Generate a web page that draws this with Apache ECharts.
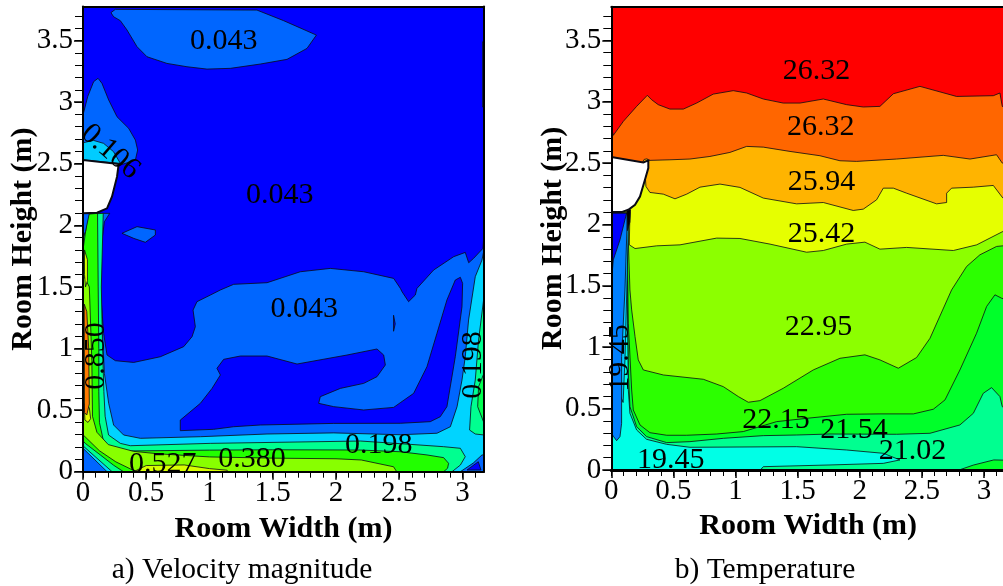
<!DOCTYPE html>
<html><head><meta charset="utf-8">
<style>html,body{margin:0;padding:0;background:#fff}#c{width:1003px;height:586px}</style>
<script src="https://cdn.jsdelivr.net/npm/echarts@6/dist/echarts.min.js"></script>
</head><body><div id="c"></div>
<script>
const FONT='"Liberation Serif"';
const xMajorTicks=[0,0.5,1,1.5,2,2.5,3];
const xMinorTicks=[0,.1,.2,.3,.4,.5,.6,.7,.8,.9,1,1.1,1.2,1.3,1.4,1.5,1.6,1.7,1.8,1.9,2,2.1,2.2,2.3,2.4,2.5,2.6,2.7,2.8,2.9,3,3.1];
const yMajorTicks=[0,0.5,1,1.5,2,2.5,3,3.5];
const yMinorTicks=[0,.1,.2,.3,.4,.5,.6,.7,.8,.9,1,1.1,1.2,1.3,1.4,1.5,1.6,1.7,1.8,1.9,2,2.1,2.2,2.3,2.4,2.5,2.6,2.7,2.8,2.9,3,3.1,3.2,3.3,3.4,3.5,3.6,3.7];

/* ---- a) velocity magnitude: contour bands in metres ---- */
const vBase=[[0,0],[3.17,0],[3.17,3.78],[0,3.78]];
const vTopBlob=[[.221,3.726],[.256,3.753],[1.375,3.747],[1.586,3.661],[1.845,3.544],[1.771,3.436],[1.613,3.347],[1.402,3.309],[1.165,3.274],[.98,3.268],[.822,3.287],[.664,3.314],[.506,3.368],[.427,3.45],[.348,3.585],[.295,3.661],[.242,3.693]];
const vWindowBlob=[[0,2.895],[.037,3.044],[.084,3.166],[.119,3.193],[.15,3.152],[.203,3.017],[.269,2.881],[.361,2.787],[.414,2.692],[.432,2.611],[.414,2.53],[.295,2.489],[0,2.53]];
const vWindowCyan=[[0,2.67],[.084,2.689],[.163,2.665],[.242,2.597],[.295,2.503],[0,2.53]];
const vIsland=[[.308,1.935],[.427,1.989],[.572,1.962],[.572,1.921],[.493,1.862],[.401,1.894]];
const vWallStrip=[[3.159,3.49],[3.17,3.49],[3.17,2.96],[3.159,2.96]];
const vBand1=[[.211,2.097],[.169,2.029],[.15,1.88],[.137,1.475],[.15,1.312],[.163,1.123],[.19,.947],[.256,.901],[.401,.887],[.611,.933],[.796,1.015],[.862,1.096],[.888,1.177],[.87,1.312],[.901,1.38],[1.007,1.434],[1.086,1.475],[1.191,1.521],[1.455,1.534],[1.718,1.623],[1.955,1.65],[2.219,1.623],[2.456,1.569],[2.509,1.488],[2.522,1.461],[2.574,1.38],[2.627,1.434],[2.64,1.488],[2.772,1.637],[2.93,1.745],[3.022,1.78],[3.049,1.696],[3.088,1.732],[3.162,1.813],[3.17,1.935],[3.17,0],[0,0],[0,2.097]];
const vInner=[[.769,.419],[.928,.555],[1.02,.676],[1.086,.785],[1.059,.839],[1.112,.912],[1.244,.939],[1.455,.939],[1.692,.874],[2.087,.947],[2.324,.996],[2.377,.947],[2.39,.866],[2.324,.771],[2.219,.717],[2.034,.676],[1.876,.609],[1.863,.555],[1.982,.528],[2.219,.501],[2.456,.522],[2.508,.56],[2.614,.636],[2.719,.852],[2.798,1.123],[2.877,1.394],[2.943,1.556],[2.983,1.578],[3.001,1.529],[2.996,1.339],[2.943,.933],[2.877,.528],[2.824,.446],[2.745,.406],[2.508,.393],[1.982,.392],[1.402,.379],[1.191,.365],[1.033,.344],[.769,.333]];
const vSliver=[[2.455,1.27],[2.468,1.2],[2.455,1.14]];
const vBand2=[[.137,2.097],[.132,1.475],[.15,1.204],[.169,.798],[.203,.555],[.242,.379],[.321,.298],[.453,.271],[.928,.284],[1.455,.306],[1.982,.315],[2.508,.3],[2.798,.312],[2.904,.365],[2.957,.528],[2.996,.744],[3.022,.933],[3.048,1.231],[3.101,1.583],[3.154,1.718],[3.17,1.8],[3.17,0],[.19,0],[0,.19],[0,1.9],[.05,2.097]];
const vBand3=[[.16,2.097],[.145,1.5],[.155,1],[.165,.65],[.175,.45],[.202,.298],[.295,.23],[.374,.211],[1.006,.23],[2.192,.249],[2.587,.222],[2.851,.203],[2.983,.19],[3.022,.122],[2.983,.054],[2.917,0],[.23,0],[0,.21],[0,1.85],[.03,2.09]];
const vBand3Wall=[[3.17,1.42],[3.127,1.069],[3.101,.744],[3.067,.528],[3.056,.338],[3.101,.306],[3.17,.298]];
const vBand4Wall=[[3.17,.8],[3.127,.69],[3.12,.528],[3.17,.395]];
const vBand4=[[.115,2.097],[.12,1.5],[.125,1],[.125,.65],[.13,.4],[.163,.243],[.242,.176],[.32,.168],[1,.175],[1.5,.178],[2.192,.176],[2.508,.162],[2.719,.136],[2.851,.114],[2.89,.068],[2.882,.028],[2.851,0],[.32,0],[.24,.054],[.137,.136],[.018,.23],[0,.25],[0,1.8],[.04,2.09]];
const vBand5=[[0,1.6],[.05,1.5],[.07,.9],[.075,.45],[.11,.32],[.2,.22],[.4,.165],[.6,.145],[1,.12],[1.5,.11],[2,.105],[2.2,.095],[2.455,.04],[2.48,0],[.42,0],[.26,.08],[.13,.17],[0,.3]];
const vBand6=[[.4,0],[.5,.05],[.8,.055],[1,.025],[1.14,.012],[1.14,0]];
const vWallYellowTop=[[.012,1.8],[.035,1.72],[.035,1.55],[.02,1.5],[.012,1.6]];
const vWallYellowLow=[[.01,.55],[.05,.52],[.06,.43],[.04,.4],[.015,.42]];
const vWallOrange=[[.01,1.36],[.03,1.3],[.045,1],[.05,.55],[.03,.46],[.012,.48]];
const vCornerMid=[[2.983,0],[3.085,.07],[3.154,.136],[3.17,.136],[3.17,0]];
const vCornerDark=[[3.036,.014],[3.125,.081],[3.146,.014]];
const vCornerLeft=[[0,2.097],[.05,2.097],[.02,1.95],[0,1.9]];
const vWindow=[[0,2.53],[.282,2.497],[.269,2.395],[.229,2.232],[.19,2.138],[.111,2.102],[0,2.097]];

const vLabels=['0.043','0.043','0.043','0.198','0.380','0.527','0.106','0.198','0.850'];
const vLabelX=[1.112,1.555,1.75,2.337,1.336,.63,.216,3.085,.105];
const vLabelY=[3.497,2.247,1.322,.213,.102,.065,2.597,.866,.94];
const vLabelAngle=[0,0,0,0,0,0,-41,90,90];

/* ---- b) temperature ---- */
const tBase=[[0,0],[3.17,0],[3.17,3.78],[0,3.78]];
const tOrange=[[0,2.799],[.016,2.726],[.097,2.84],[.204,2.962],[.29,3.052],[.325,3.016],[.378,2.976],[.472,2.94],[.58,2.94],[.687,2.989],[.821,3.062],[.982,3.09],[1.09,3.071],[1.224,3.022],[1.385,2.989],[1.519,2.989],[1.707,3.022],[1.895,2.976],[2.029,2.957],[2.163,2.962],[2.271,3.065],[2.485,3.125],[2.78,3.043],[3.076,3.049],[3.129,3.071],[3.148,2.962],[3.17,2.95],[3.17,0],[0,0]];
const tAmber=[[.303,2.522],[.472,2.527],[.633,2.533],[.794,2.554],[.955,2.587],[1.09,2.636],[1.224,2.63],[1.439,2.595],[1.68,2.56],[1.841,2.519],[1.975,2.514],[2.297,2.533],[2.673,2.563],[2.888,2.533],[3.102,2.568],[3.148,2.5],[3.17,2.5],[3.17,0],[0,0],[0,2.5],[.25,2.5]];
const tYellow=[[.279,2.31],[.311,2.261],[.419,2.247],[.513,2.209],[.607,2.247],[.714,2.304],[.875,2.329],[1.036,2.302],[1.224,2.215],[1.492,2.168],[1.707,2.179],[1.948,2.114],[2.029,2.125],[2.136,2.201],[2.19,2.296],[2.271,2.296],[2.378,2.255],[2.619,2.168],[2.7,2.179],[2.7,2.255],[2.74,2.296],[2.915,2.304],[3.076,2.318],[3.153,2.215],[3.17,2.2],[3.17,0],[0,0],[0,2.4],[.27,2.45]];
const tLime=[[.145,1.834],[.191,1.804],[.365,1.826],[.553,1.834],[.848,1.889],[1.036,1.886],[1.278,1.84],[1.573,1.774],[1.707,1.788],[1.895,1.84],[2.042,1.856],[2.163,1.799],[2.378,1.813],[2.754,1.788],[2.942,1.834],[3.153,1.943],[3.17,1.95],[3.17,0],[0,0],[0,2.1],[.15,2.1]];
const tGreen1=[[.13,2.09],[.15,1.467],[.164,1.304],[.191,1.087],[.217,.897],[.258,.815],[.419,.774],[.741,.739],[.902,.679],[1.023,.598],[1.103,.552],[1.197,.565],[1.385,.666],[1.626,.815],[1.841,.91],[2.042,.938],[2.163,.897],[2.311,.829],[2.458,.916],[2.566,1.073],[2.74,1.467],[2.861,1.658],[2.968,1.753],[3.102,1.821],[3.153,1.826],[3.17,1.83],[3.17,0],[0,0],[0,2.09]];
const tGreen2=[[.125,2.09],[.137,1.196],[.164,.652],[.177,.489],[.231,.367],[.311,.304],[.446,.283],[.607,.283],[.848,.293],[1.063,.313],[1.331,.394],[1.573,.421],[1.895,.454],[2.163,.457],[2.432,.457],[2.593,.495],[2.687,.571],[2.807,.815],[2.941,1.114],[3.022,1.332],[3.089,1.427],[3.143,1.399],[3.17,1.39],[3.17,0],[0,0],[0,2.09]];
const tMint=[[.115,2.09],[.137,.788],[.15,.516],[.204,.353],[.284,.272],[.446,.223],[.633,.231],[.902,.258],[1.224,.28],[1.492,.285],[1.761,.293],[2.297,.291],[2.566,.299],[2.807,.367],[2.915,.462],[2.995,.625],[3.062,.671],[3.129,.598],[3.148,.516],[3.17,.5],[3.17,.08],[3.08,.082],[2.915,.04],[2.8,0],[0,0],[0,2.09]];
const tCyan=[[.125,1.8],[.137,.652],[.15,.462],[.204,.326],[.284,.25],[.446,.209],[.633,.185],[1.492,.19],[1.895,.163],[2.19,.136],[2.324,.082],[2.19,.054],[1.761,.041],[1.224,.027],[1.2,0],[0,0],[0,2.09],[.12,2.09]];
const tSky=[[0,2.09],[.14,2.09],[.125,1.467],[.11,.9],[.095,.55],[.075,.6],[0,.6]];
const tAzure=[[0,2.09],[.13,2.09],[.11,1.467],[.083,.924],[.083,.38],[.07,.272],[.043,.239],[.02,.27],[0,.3]];
const tBlue=[[0,2.092],[.123,2.092],[.07,1.875],[.016,1.712],[0,1.52]];
const tClump=[[.125,2.12],[.155,2.12],[.15,2.02],[.13,1.95]];
const tBlob=[[.25,2.505],[.265,2.53],[.29,2.535],[.3,2.515],[.28,2.5]];
const tWindow=[[0,2.549],[.258,2.505],[.298,2.522],[.298,2.459],[.271,2.364],[.231,2.228],[.191,2.16],[.137,2.12],[.083,2.101],[0,2.101]];

const tLabels=['26.32','26.32','25.94','25.42','22.95','22.15','21.54','21.02','19.45','19.45'];
const tLabelX=[1.652,1.686,1.692,1.692,1.668,1.326,1.954,2.426,.478,.07];
const tLabelY=[3.247,2.795,2.347,1.923,1.162,.409,.328,.151,.083,.913];
const tLabelAngle=[0,0,0,0,0,0,0,0,0,90];

const vLayers=[[vBase,'#0000ff'],[vTopBlob,'#0066ff'],[vWindowBlob,'#0066ff'],[vWindowCyan,'#00ccff'],[vIsland,'#0066ff'],[vWallStrip,'#0066ff'],[vBand1,'#0066ff'],[vInner,'#0000ff'],[vSliver,'#0000ff'],[vBand2,'#00d4ff'],[vBand3,'#00ff90'],[vBand3Wall,'#00ff90'],[vBand4Wall,'#00ff50'],[vBand4,'#22ff00'],[vBand5,'#88ff00'],[vBand6,'#d8ff00'],[vWallYellowTop,'#e0ff00'],[vWallYellowLow,'#e0ff00'],[vWallOrange,'#ff7a00'],[vCornerMid,'#0066ff'],[vCornerDark,'#0000ff'],[vCornerLeft,'#0066ff'],[vWindow,'#ffffff']];
const tLayers=[[tBase,'#ff0000'],[tOrange,'#ff6600'],[tAmber,'#ffb400'],[tYellow,'#e6ff00'],[tLime,'#8cff00'],[tGreen1,'#2cff00'],[tGreen2,'#00ff2a'],[tMint,'#00ff90'],[tCyan,'#00ffe6'],[tSky,'#00c8ff'],[tAzure,'#0080ff'],[tBlue,'#0000ff'],[tClump,'#000000'],[tBlob,'#ffb400'],[tWindow,'#ffffff']];

const thick=new Set([vWindow,tWindow]);
function polySeries(layers,idx){
  return {type:'custom',coordinateSystem:'cartesian2d',xAxisIndex:idx*3,yAxisIndex:idx*3,clip:true,z:2,silent:true,
    data:layers.map((l,i)=>[i]),
    renderItem(p,api){
      const l=layers[p.dataIndex];
      const first=p.dataIndex===0;
      return {type:'polygon',shape:{points:l[0].map(q=>api.coord(q))},
        style:{fill:l[1],stroke:first?l[1]:'#0a0a14',lineWidth:thick.has(l[0])?2:0.8}};
    }};
}
function labelSeries(txt,xs,ys,ang,idx){
  return {type:'custom',coordinateSystem:'cartesian2d',xAxisIndex:idx*3,yAxisIndex:idx*3,clip:false,z:5,silent:true,
    data:txt.map((t,i)=>[xs[i],ys[i]]),
    renderItem(p,api){
      const c=api.coord([api.value(0),api.value(1)]);
      const i=p.dataIndex;
      return {type:'text',x:c[0],y:c[1],rotation:ang[i]*Math.PI/180,
        style:{text:txt[i],font:'30px '+FONT,fill:'#000',align:'center',verticalAlign:'middle'}};
    }};
}
function axes(g,maxV,nameGapX,nameGapY,bottomWidth){
  const tx={fontFamily:FONT,fontSize:29,color:'#000'};
  const nm={fontFamily:FONT,fontSize:30,fontWeight:'bold',color:'#000'};
  const line={lineStyle:{color:'#000',width:2}};
  const x=[
   {type:'value',gridIndex:g,min:0,max:3.17,position:'bottom',z:10,name:'Room Width (m)',nameLocation:'middle',nameGap:nameGapX,nameTextStyle:nm,splitLine:{show:false},
    axisLine:{show:true,onZero:false,lineStyle:{color:'#000',width:bottomWidth}},axisTick:{show:true,length:8,customValues:xMajorTicks,lineStyle:{color:'#000',width:1.5}},axisLabel:{show:true,margin:7,customValues:xMajorTicks,formatter:v=>String(v),...tx}},
   {type:'value',gridIndex:g,min:0,max:3.17,position:'bottom',z:10,splitLine:{show:false},axisLine:{show:false,onZero:false},axisTick:{show:true,length:6,customValues:xMinorTicks,lineStyle:{color:'#000',width:1}},axisLabel:{show:false}},
   {type:'value',gridIndex:g,min:0,max:3.17,position:'top',z:10,splitLine:{show:false},axisLine:{show:true,onZero:false,...line},axisTick:{show:false},axisLabel:{show:false}}
  ];
  const y=[
   {type:'value',gridIndex:g,min:0,max:maxV,position:'left',z:10,name:'Room Height (m)',nameLocation:'middle',nameGap:nameGapY,nameMoveOverlap:false,nameRotate:90,nameTextStyle:nm,splitLine:{show:false},
    axisLine:{show:true,onZero:false,...line},axisTick:{show:true,length:9,customValues:yMajorTicks,lineStyle:{color:'#000',width:1.5}},axisLabel:{show:true,margin:10,customValues:yMajorTicks,formatter:v=>String(v),...tx}},
   {type:'value',gridIndex:g,min:0,max:maxV,position:'left',z:10,splitLine:{show:false},axisLine:{show:false,onZero:false},axisTick:{show:true,length:8,customValues:yMinorTicks,lineStyle:{color:'#000',width:1}},axisLabel:{show:false}},
   {type:'value',gridIndex:g,min:0,max:maxV,position:'right',z:10,splitLine:{show:false},axisLine:{show:true,onZero:false,...line},axisTick:{show:false},axisLabel:{show:false}}
  ];
  return {x,y};
}
const a=axes(0,3.776,43,45,2);
const b=axes(1,3.774,38,43,3);
const chart=echarts.init(document.getElementById('c'),null,{renderer:'canvas'});
chart.setOption({
  animation:false,backgroundColor:'#fff',
  title:[
   {text:'a) Velocity magnitude',left:242,top:555,padding:0,textAlign:'center',textStyle:{fontFamily:FONT,fontSize:29.5,fontWeight:'normal',color:'#000'}},
   {text:'b) Temperature',left:765,top:555,padding:0,textAlign:'center',textStyle:{fontFamily:FONT,fontSize:29.5,fontWeight:'normal',color:'#000'}}
  ],
  grid:[{left:83,top:6.5,width:401,height:465.2,outerBoundsMode:'none'},{left:611.3,top:6.7,width:393.7,height:463.3,outerBoundsMode:'none'}],
  xAxis:[...a.x,...b.x],
  yAxis:[...a.y,...b.y],
  series:[polySeries(vLayers,0),labelSeries(vLabels,vLabelX,vLabelY,vLabelAngle,0),polySeries(tLayers,1),labelSeries(tLabels,tLabelX,tLabelY,tLabelAngle,1)]
});
</script></body></html>
